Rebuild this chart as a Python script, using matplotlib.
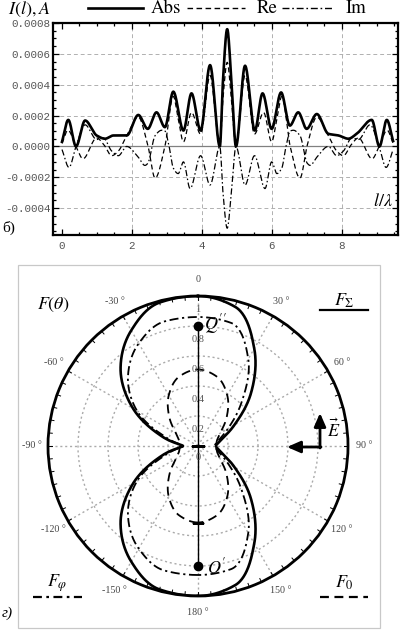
import numpy as np
import matplotlib
matplotlib.use("Agg")
import matplotlib.pyplot as plt
from matplotlib.lines import Line2D
from matplotlib.patches import Rectangle, FancyArrowPatch

plt.rcParams['mathtext.fontset'] = 'stix'

# ---------------- data: current distribution (units of 1e-4 A) ----------------
abs_x = [0.00, 0.18, 0.40, 0.66, 0.99, 1.23, 1.47, 1.85, 2.18, 2.45, 2.70, 2.94, 3.18, 3.47,
         3.70, 3.96, 4.23, 4.51, 4.60, 4.72, 4.84, 4.97, 5.23, 5.51, 5.73, 5.99, 6.26, 6.51,
         6.75, 6.99, 7.28, 7.61, 7.90, 8.18, 8.42, 8.85, 9.07, 9.28, 9.46]
abs_y = [0.30, 1.72, 0.00, 1.68, 0.71, 0.50, 0.71, 0.71, 2.04, 1.14, 2.21, 1.25, 3.55, 1.03,
         3.44, 1.03, 5.27, 0.00, 4.30, 7.60, 4.30, 0.00, 5.23, 1.03, 3.44, 1.14, 3.50, 1.35,
         2.21, 1.14, 2.10, 0.82, 0.71, 0.50, 0.82, 1.72, 0.00, 1.72, 0.35]

re_x = [0.00, 0.17, 0.40, 0.60, 0.99, 1.20, 1.42, 1.61, 1.85, 2.18, 2.45, 2.66, 2.94, 3.18,
        3.32, 3.47, 3.70, 3.96, 4.23, 4.51, 4.60, 4.72, 4.84, 4.97, 5.23, 5.50, 5.76, 5.99,
        6.14, 6.28, 6.52, 6.80, 7.01, 7.28, 7.61, 7.85, 8.04, 8.26, 8.47, 8.86, 9.06, 9.29, 9.46]
re_y = [0.20, 1.05, 0.00, -0.80, 0.55, 0.10, -0.60, -0.30, 0.70, 1.90, 0.10, -2.05, 0.00, 3.25,
        1.80, 0.30, 2.20, 0.80, 4.60, 0.00, 3.10, 5.45, 3.10, 0.00, 4.60, 0.80, 2.20, 0.30,
        1.80, 3.25, 0.00, -2.05, 0.10, 1.90, 0.70, -0.30, -0.60, 0.10, 0.55, -0.80, 0.00, 1.05, 0.20]

im_x = [0.00, 0.20, 0.40, 0.66, 0.99, 1.18, 1.42, 1.61, 1.85, 2.18, 2.37, 2.45, 2.66, 2.85,
        2.94, 3.06, 3.18, 3.32, 3.47, 3.66, 3.96, 4.23, 4.51, 4.60, 4.72, 4.84, 4.97, 5.23,
        5.50, 5.80, 5.99, 6.14, 6.28, 6.40, 6.52, 6.61, 6.80, 7.01, 7.09, 7.28, 7.61, 7.85,
        8.04, 8.28, 8.47, 8.80, 9.06, 9.26, 9.46]
im_y = [-0.20, -1.36, 0.00, 1.40, 0.45, 0.55, -0.30, -0.60, 0.00, -0.70, -1.23, -1.10, 0.70, 1.05,
        1.00, 0.00, -1.40, -1.76, -1.00, -2.73, -0.60, -2.50, 0.00, -3.00, -5.30, -3.00, 0.00, -2.50,
        -0.60, -2.73, -1.00, -1.76, -1.40, 0.00, 1.00, 1.05, 0.70, -1.10, -1.23, -0.70, 0.00, -0.60,
        -0.30, 0.55, 0.45, 1.40, 0.00, -1.36, -0.20]
unit = 1e-4

x_ticks = [0, 2, 4, 6, 8]
x_tick_labels = ["0", "2", "4", "6", "8"]
y_ticks = [-0.0004, -0.0002, 0.0, 0.0002, 0.0004, 0.0006, 0.0008]
y_tick_labels = ["-0.0004", "-0.0002", "0.0000", "0.0002", "0.0004", "0.0006", "0.0008"]
series_names = ["Abs", "Re", "Im"]

# ---------------- data: radiation patterns (theta in degrees) ----------------
theta_deg = [-180, -165, -150, -135, -120, -105, -90, -75, -60, -45, -30, -15, 0,
             15, 30, 45, 60, 75, 90, 105, 120, 135, 150, 165, 180]
F_sum = [1.00, 0.99, 0.89, 0.73, 0.50, 0.25, 0.10, 0.25, 0.50, 0.73, 0.89, 0.99, 1.00,
         0.96, 0.75, 0.50, 0.28, 0.16, 0.12, 0.16, 0.28, 0.50, 0.75, 0.96, 1.00]
F_phi = [0.86, 0.86, 0.79, 0.66, 0.47, 0.22, 0.10, 0.22, 0.47, 0.66, 0.79, 0.86, 0.86,
         0.85, 0.67, 0.41, 0.23, 0.14, 0.11, 0.14, 0.23, 0.41, 0.67, 0.85, 0.86]
F_0 = [0.51, 0.48, 0.39, 0.27, 0.17, 0.13, 0.12, 0.13, 0.17, 0.27, 0.39, 0.48, 0.51,
       0.48, 0.39, 0.27, 0.17, 0.13, 0.12, 0.13, 0.17, 0.27, 0.39, 0.48, 0.51]
r_grid = [0.2, 0.4, 0.6, 0.8]
r_labels = ["0.2", "0.4", "0.6", "0.8", "1"]
r_label_vals = [0.2, 0.4, 0.6, 0.8, 1.0]
ang_label_deg = [0, 30, 60, 90, 120, 150, 180, -150, -120, -90, -60, -30]
ang_labels = ["0", "30 °", "60 °", "90 °", "120 °", "150 °", "180 °",
              "-150 °", "-120 °", "-90 °", "-60 °", "-30 °"]
point_r = 0.8          # Q'' and O'
f0_mark_r = 0.51


def pchip(x, y, xs):
    x = np.asarray(x, float); y = np.asarray(y, float)
    h = np.diff(x); d = np.diff(y) / h
    m = np.zeros_like(y)
    for k in range(1, len(x) - 1):
        if d[k - 1] * d[k] > 0:
            w1 = 2 * h[k] + h[k - 1]; w2 = h[k] + 2 * h[k - 1]
            m[k] = (w1 + w2) / (w1 / d[k - 1] + w2 / d[k])
    m[0] = d[0]; m[-1] = d[-1]
    idx = np.clip(np.searchsorted(x, xs) - 1, 0, len(x) - 2)
    t = (xs - x[idx]) / h[idx]
    h00 = 2 * t**3 - 3 * t**2 + 1; h10 = t**3 - 2 * t**2 + t
    h01 = -2 * t**3 + 3 * t**2; h11 = t**3 - t**2
    return h00 * y[idx] + h10 * h[idx] * m[idx] + h01 * y[idx + 1] + h11 * h[idx] * m[idx + 1]


def smooth_polar(deg, r):
    deg = np.asarray(deg, float); r = np.asarray(r, float)
    ext_d = np.concatenate([[deg[-2] - 360], deg, [deg[1] + 360]])
    ext_r = np.concatenate([[r[-2]], r, [r[1]]])
    dd = np.linspace(-180, 180, 1441)
    return np.deg2rad(dd), pchip(ext_d, ext_r, dd)


W, H = 401, 631
fig = plt.figure(figsize=(W / 100, H / 100), dpi=100)
fx = lambda px: px / W
fy = lambda py: 1 - py / H

# ================= top chart =================
ax = fig.add_axes([fx(53), fy(235), (398 - 53) / W, (235 - 23) / H])
ax.set_xlim(-0.257, 9.6)
ax.set_ylim(-0.000574, 0.0008)
for v in x_ticks[1:]:
    ax.axvline(v, color='#b0b0b0', lw=0.7, ls=(0, (4, 3)), zorder=0)
for v in y_ticks:
    if v != 0:
        ax.axhline(v, color='#b0b0b0', lw=0.7, ls=(0, (4, 3)), zorder=0)
ax.axhline(0, color='#808080', lw=0.9, zorder=0)

xs = np.linspace(0, 9.46, 1500)
ax.plot(xs, pchip(abs_x, abs_y, xs) * unit, color='black', lw=1.9, zorder=3)
ax.plot(xs, pchip(re_x, re_y, xs) * unit, color='black', lw=0.9, ls=(0, (4, 2.5)), zorder=2)
ax.plot(xs, pchip(im_x, im_y, xs) * unit, color='black', lw=0.9, ls=(0, (5, 2, 1.2, 2)), zorder=2)

ax.set_xticks(x_ticks)
ax.set_xticklabels(x_tick_labels)
ax.set_yticks(y_ticks)
ax.set_yticklabels(y_tick_labels)
ax.set_xticks(np.arange(0, 9.6, 0.5), minor=True)
ax.set_yticks(np.arange(-0.00055, 0.0008, 0.00005), minor=True)
ax.tick_params(which='both', direction='in', top=True, right=True, width=0.9,
               labelsize=7.8, labelcolor='#555555', colors='black')
ax.tick_params(which='major', length=4, pad=2)
ax.tick_params(which='minor', length=2)
ax.tick_params(axis='x', pad=4)
for lab in ax.get_xticklabels() + ax.get_yticklabels():
    lab.set_family('Liberation Mono')
for s in ax.spines.values():
    s.set_linewidth(1.6)

ax.text(0.985, 0.16, r"$l/\lambda$", transform=ax.transAxes, ha='right', va='center', fontsize=13)

fig.text(fx(8), fy(9), r"$I(l), A$", ha='left', va='center', fontsize=13)
styles = [dict(lw=1.9, ls='-'), dict(lw=1.0, ls=(0, (4, 2.5))), dict(lw=1.0, ls=(0, (5, 2, 1.2, 2)))]
leg_line = [(88, 143), (187, 245), (282, 333)]
leg_text = [151, 257, 346]
for name, st, (a, b), t in zip(series_names, styles, leg_line, leg_text):
    fig.add_artist(Line2D([fx(a), fx(b)], [fy(8), fy(8)], color='black', transform=fig.transFigure, **st))
    fig.text(fx(t), fy(8), name, ha='left', va='center', fontsize=13.5, family='STIXGeneral')
fig.text(fx(2), fy(228), "б)", ha='left', va='center', fontsize=11, family='Liberation Serif')

# ================= polar chart =================
fig.add_artist(Rectangle((fx(18), fy(628)), (380 - 18) / W, (628 - 265) / H, transform=fig.transFigure,
                         fill=False, edgecolor='#c8c8c8', lw=0.9))
pa = fig.add_axes([fx(48), fy(596), 300 / W, 300 / H], projection='polar')
pa.set_theta_zero_location('N')
pa.set_theta_direction(-1)
pa.set_rlim(0, 1)
pa.set_thetagrids(np.arange(0, 360, 30), labels=[''] * 12)
pa.set_rgrids(r_grid, labels=[''] * len(r_grid))
pa.grid(True, color='#aaaaaa', lw=1.0, ls=(0, (1.5, 2)))
pa.spines['polar'].set_linewidth(2.0)
pa.set_facecolor('none')
for a in np.arange(0, 360, 5):
    pa.plot([np.deg2rad(a)] * 2, [0.975, 1.0], color='black', lw=0.7, clip_on=False)

t, r = smooth_polar(theta_deg, F_sum)
pa.plot(t, r, color='black', lw=1.9, zorder=4)
t, r = smooth_polar(theta_deg, F_phi)
pa.plot(t, r, color='black', lw=1.3, ls=(0, (5, 2, 1.2, 2)), zorder=3)
t, r = smooth_polar(theta_deg, F_0)
pa.plot(t, r, color='black', lw=1.3, ls=(0, (5, 3)), zorder=3)

pa.plot([0, 0, np.pi], [point_r, 0, point_r], color='black', lw=1.0, zorder=5)
pa.plot([0, np.pi], [point_r, point_r], 'o', color='black', ms=6, zorder=6)
pa.plot([0], [0], marker='_', color='black', ms=10, mew=1.0, zorder=6)
pa.plot([np.pi], [f0_mark_r], marker='_', color='black', ms=8, mew=1.0, zorder=6)

for v, lab in zip(r_label_vals, r_labels):
    pa.text(0, v - 0.09, lab, ha='center', va='center', fontsize=7.5, color='#555555',
            family='Liberation Serif', zorder=7)
pa.text(np.pi, 0.08, "0", ha='center', va='center', fontsize=7.5, color='#555555',
        family='Liberation Serif', zorder=7)
for a, lab in zip(ang_label_deg, ang_labels):
    pa.text(np.deg2rad(a), 1.11, lab, ha='center', va='center', fontsize=7.2, color='#444444',
            family='Liberation Serif', clip_on=False)

fig.text(fx(204), fy(324), r"$Q''$", ha='left', va='center', fontsize=13)
fig.text(fx(207), fy(567), r"$O'$", ha='left', va='center', fontsize=13)
fig.text(fx(53), fy(305), r"$F(\theta)$", ha='center', va='center', fontsize=13)

fig.text(fx(344), fy(301), r"$F_\Sigma$", ha='center', va='center', fontsize=13)
fig.add_artist(Line2D([fx(320), fx(368)], [fy(310), fy(310)], color='black', lw=1.6, transform=fig.transFigure))
fig.text(fx(57), fy(583), r"$F_\varphi$", ha='center', va='center', fontsize=13)
fig.add_artist(Line2D([fx(33), fx(82)], [fy(597), fy(597)], color='black', lw=1.6,
                      ls=(0, (4, 2, 1.2, 2)), transform=fig.transFigure))
fig.text(fx(344), fy(583), r"$F_0$", ha='center', va='center', fontsize=13)
fig.add_artist(Line2D([fx(320), fx(368)], [fy(597), fy(597)], color='black', lw=1.6,
                      ls=(0, (4, 2.5)), transform=fig.transFigure))

arr = dict(arrowstyle='-|>,head_length=0.8,head_width=0.35', lw=2, color='black',
           mutation_scale=10, shrinkA=0, shrinkB=0)
fig.add_artist(FancyArrowPatch((fx(320), fy(448)), (fx(320), fy(413)),
                               transform=fig.transFigure, **arr))
fig.add_artist(FancyArrowPatch((fx(321), fy(447)), (fx(287), fy(447)),
                               transform=fig.transFigure, **arr))
fig.text(fx(334), fy(430), r"$\vec{E}$", ha='center', va='center', fontsize=13)

fig.text(fx(2), fy(613), "г)", ha='left', va='center', fontsize=11, family='Liberation Serif',
         style='italic')

fig.savefig("out.png", dpi=100)
